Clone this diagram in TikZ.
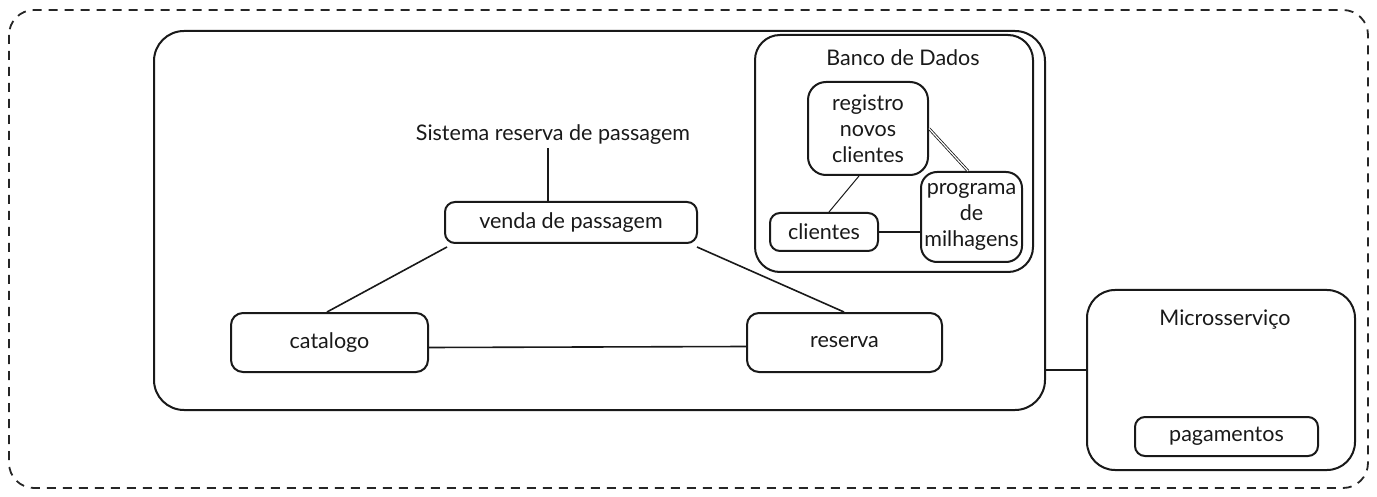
\documentclass[tikz,border=0pt]{standalone}
\usepackage{fontspec}
\setmainfont{Lato}
\begin{document}
\begin{tikzpicture}[x=1pt,y=-1pt,
  box/.style={draw=black!90,line width=2pt,rounded corners=10pt,inner sep=0pt},
  lbl/.style={font=\fontsize{21.5}{26}\selectfont,text=black!90,align=center},
  conn/.style={draw=black!90,line width=1.6pt}]
\useasboundingbox (0,0) rectangle (1377,497);
% outer dashed frame
\draw[line width=1.8pt,dash pattern=on 9pt off 7pt,rounded corners=25pt,black!85] (9,10) rectangle (1368,488);
% main system box
\node[box,rounded corners=30pt,minimum width=891pt,minimum height=379pt] (sys) at (599.5,220.5) {};
% database box
\node[box,rounded corners=25pt,minimum width=278pt,minimum height=237pt] (db) at (894,153.5) {};
\node[lbl] (dbt) at (903,58) {Banco de Dados};
\node[box,rounded corners=18pt,minimum width=120pt,minimum height=93pt,lbl] (reg) at (868,128.5) {registro\\novos\\clientes};
\node[box,minimum width=108pt,minimum height=38pt,lbl] (cli) at (824,232) {clientes};
\node[box,rounded corners=16pt,minimum width=101pt,minimum height=90pt,lbl] (prog) at (971.5,217) {programa\\de\\milhagens};
\draw[line width=1pt,black!90] ([xshift=52pt]reg.south west) -- ([xshift=60pt]cli.north west);
\draw[line width=0.8pt,black!90,double distance=1.2pt] (reg.east) -- ([xshift=48pt]prog.north west);
\draw[conn,line width=2.5pt] (cli.east) -- (prog.west |- cli.east);
% system title
\node[lbl] (syst) at (553,135) {Sistema reserva de passagem};
\node[box,minimum width=252pt,minimum height=41pt,lbl] (venda) at (571,222.5) {venda de passagem};
\draw[conn] (syst.south -| 548,0) -- ([xshift=-23pt]venda.north);
\node[box,rounded corners=12pt,minimum width=197pt,minimum height=59pt,lbl] (cat) at (329.5,342.5) {catalogo};
\node[box,rounded corners=12pt,minimum width=195pt,minimum height=59pt,lbl] (res) at (844.5,342.5) {reserva};
\draw[conn] ([xshift=3pt,yshift=-3pt]venda.south west) -- ([xshift=97pt]cat.north west);
\draw[conn] ([xshift=-1pt,yshift=-3pt]venda.south east) -- ([xshift=98pt]res.north west);
\draw[conn] ([yshift=-5pt]cat.east) -- ([yshift=-4pt]res.west);
% microservice
\node[box,rounded corners=28pt,minimum width=268pt,minimum height=180pt] (micro) at (1221,380) {};
\node[lbl] (microt) at (1225,320) {Microsserviço};
\node[box,minimum width=183pt,minimum height=39pt,lbl] (pag) at (1226.5,436.5) {pagamentos};
\coordinate (sysr) at (1045,370);
\draw[conn] (sysr) -- (micro.west |- sysr);
\end{tikzpicture}
\end{document}
